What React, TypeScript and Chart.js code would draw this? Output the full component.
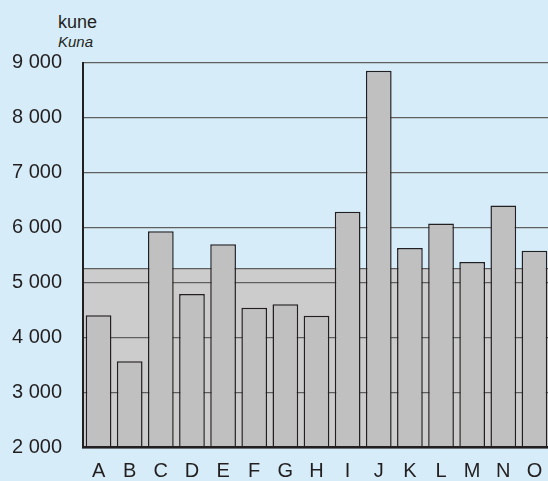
import React, { useEffect, useRef } from "react";
import { Chart, registerables } from "chart.js";

Chart.register(...registerables);

const categories = ["A", "B", "C", "D", "E", "F", "G", "H", "I", "J", "K", "L", "M", "N", "O"];
const values = [4410, 3570, 5935, 4795, 5700, 4545, 4610, 4400, 6290, 8855, 5630, 6075, 5375, 6405, 5580];
const averageValue = 5255;
const yTickValues = [2000, 3000, 4000, 5000, 6000, 7000, 8000, 9000];
const yTickLabels = ["2 000", "3 000", "4 000", "5 000", "6 000", "7 000", "8 000", "9 000"];
const unitLabel = "kune";
const unitLabelEn = "Kuna";

const FONT = "'Liberation Sans', Arial, Helvetica, sans-serif";
const DARK = "#231f20";
const GRID = "#5f5f5f";

const bandPlugin = {
  id: "averageBand",
  beforeDraw(chart: any) {
    const { ctx, chartArea, scales } = chart;
    const y = scales.y;
    const top = y.getPixelForValue(averageValue);
    const bottom = y.getPixelForValue(y.min);
    ctx.save();
    ctx.fillStyle = "#cccccc";
    ctx.fillRect(chartArea.left, top, chartArea.right - chartArea.left, bottom - top);
    ctx.strokeStyle = GRID;
    ctx.lineWidth = 1.3;
    ctx.beginPath();
    ctx.moveTo(chartArea.left, top);
    ctx.lineTo(chartArea.right, top);
    ctx.stroke();
    ctx.restore();
  },
};

export default function App() {
  const canvasRef = useRef<HTMLCanvasElement | null>(null);

  useEffect(() => {
    if (!canvasRef.current) return;
    const chart = new Chart(canvasRef.current, {
      type: "bar",
      data: {
        labels: categories,
        datasets: [
          {
            data: values,
            backgroundColor: "#c0c0c0",
            borderColor: DARK,
            borderWidth: 1.5,
            borderSkipped: "start",
            barPercentage: 0.826,
            categoryPercentage: 1,
          },
        ],
      },
      options: {
        animation: false,
        responsive: true,
        maintainAspectRatio: false,
        layout: { padding: { top: 62.7, left: 0, right: 0, bottom: 0 } },
        plugins: {
          legend: { display: false },
          tooltip: { enabled: false },
          title: { display: false },
        },
        scales: {
          x: {
            offset: true,
            grid: { display: false },
            border: { display: true, color: DARK, width: 2.5, z: 1 },
            ticks: {
              color: DARK,
              font: { size: 20, family: FONT },
              padding: 4,
              maxRotation: 0,
              autoSkip: false,
            },
            afterFit: (s: any) => {
              s.height = 33.3;
            },
          },
          y: {
            min: 2000,
            max: 9000,
            grid: { color: GRID, lineWidth: 1.3, drawTicks: false },
            border: { display: true, color: DARK, width: 2 },
            ticks: {
              stepSize: 1000,
              color: DARK,
              font: { size: 20, family: FONT },
              padding: 21,
              callback: (v: any) => {
                const i = yTickValues.indexOf(Number(v));
                return i >= 0 ? yTickLabels[i] : "";
              },
            },
            afterFit: (s: any) => {
              s.width = 83;
            },
          },
        },
      },
      plugins: [bandPlugin],
    });
    return () => chart.destroy();
  }, []);

  return (
    <div
      style={{
        position: "fixed",
        left: 0,
        top: 0,
        width: 550,
        height: 481,
        background: "rgb(214,237,249)",
        overflow: "hidden",
      }}
    >
      <div
        style={{
          position: "absolute",
          left: 58,
          top: 13,
          fontFamily: FONT,
          fontSize: 18,
          lineHeight: "18px",
          color: DARK,
          whiteSpace: "nowrap",
        }}
      >
        {unitLabel}
      </div>
      <div
        style={{
          position: "absolute",
          left: 58,
          top: 34,
          fontFamily: FONT,
          fontSize: 15,
          fontStyle: "italic",
          lineHeight: "15px",
          color: DARK,
          whiteSpace: "nowrap",
        }}
      >
        {unitLabelEn}
      </div>
      <div style={{ position: "absolute", left: 0, top: 0, width: 550, height: 481 }}>
        <canvas ref={canvasRef} />
      </div>
    </div>
  );
}
